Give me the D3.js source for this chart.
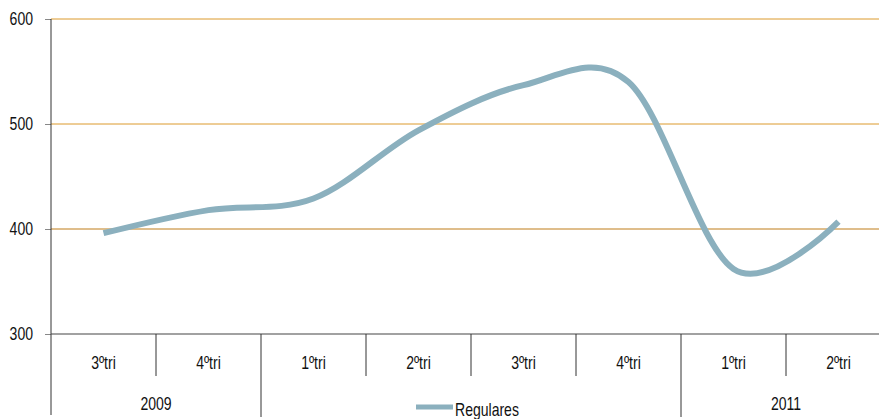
<!DOCTYPE html>
<html>
<head>
<meta charset="utf-8">
<script src="https://cdn.jsdelivr.net/npm/d3@7"></script>
<style>
  body { margin: 0; background: #fff; }
  text { font-family: "Liberation Sans", Arial, sans-serif; font-size: 18px; fill: #111; }
</style>
</head>
<body>
<div id="chart"></div>
<script>
const quarters = ['3ºtri', '4ºtri', '1ºtri', '2ºtri', '3ºtri', '4ºtri', '1ºtri', '2ºtri'];
const years = ['2009', '2009', '2010', '2010', '2010', '2010', '2011', '2011'];
const yearLabels = [{year: '2009', from: 0, to: 2}, {year: '', from: 2, to: 6}, {year: '2011', from: 6, to: 8}];
const regulares = [396, 418, 429, 494, 537, 540, 362, 407];
const yTicks = [300, 400, 500, 600];
const seriesName = 'Regulares';

const svgWidth = 879;
const svgHeight = 419;
const margin = {top: 19, left: 51, bottom: 85};
const plotRight = 891;
const narrow = 0.78; // squeeze Liberation Sans to look like Arial Narrow

const svg = d3.select('#chart').append('svg')
    .attr('width', svgWidth)
    .attr('height', svgHeight);

const x = d3.scaleBand()
    .domain(d3.range(quarters.length))
    .range([margin.left, plotRight]);

const y = d3.scaleLinear()
    .domain([300, 600])
    .range([svgHeight - margin.bottom, margin.top]);

function label(g, tx, ty, txt, anchor) {
    return g.append('text')
        .attr('transform', `translate(${tx},${ty}) scale(${narrow},1)`)
        .attr('text-anchor', anchor)
        .text(txt);
}

// gridlines
svg.selectAll('line.grid').data(yTicks.filter(d => d > 300)).enter()
    .append('line')
    .attr('class', 'grid')
    .attr('x1', margin.left).attr('x2', plotRight)
    .attr('y1', d => y(d)).attr('y2', d => y(d))
    .attr('stroke', d => d === 400 ? '#bf7c18' : '#dc9a2c')
    .attr('stroke-width', 1);

// y axis ticks + labels
const leftAxis = d3.axisLeft(y).tickValues(yTicks).tickSize(6).tickFormat('');
const yAxisG = svg.append('g')
    .attr('transform', `translate(${margin.left},0)`)
    .call(leftAxis);
yAxisG.select('.domain').remove();
yAxisG.selectAll('.tick line').attr('stroke', '#888');
yTicks.forEach(t => label(svg, 33, y(t) + 6, t, 'end'));

svg.append('line')
    .attr('x1', margin.left).attr('x2', margin.left)
    .attr('y1', margin.top).attr('y2', 415)
    .attr('stroke', '#333');

// x axis line
const baseY = y(300);
svg.append('line')
    .attr('x1', margin.left).attr('x2', plotRight)
    .attr('y1', baseY).attr('y2', baseY)
    .attr('stroke', '#444').attr('stroke-width', 1.2);

// quarter separators
svg.selectAll('line.qsep').data(d3.range(1, quarters.length)).enter()
    .append('line')
    .attr('class', 'qsep')
    .attr('x1', d => x(d)).attr('x2', d => x(d))
    .attr('y1', baseY)
    .attr('y2', d => years[d] !== years[d - 1] ? 417 : 376)
    .attr('stroke', '#333');

quarters.forEach((q, i) => label(svg, x(i) + x.bandwidth() / 2, 369, q, 'middle'));

yearLabels.filter(d => d.year).forEach(d =>
    label(svg, (x(d.from) + x(d.to - 1) + x.bandwidth()) / 2, 410, d.year, 'middle'));

// series line
const line = d3.line()
    .x((d, i) => x(i) + x.bandwidth() / 2)
    .y(d => y(d))
    .curve(d3.curveCardinal.tension(0));

svg.append('path')
    .datum(regulares)
    .attr('d', line)
    .attr('fill', 'none')
    .attr('stroke', '#8bb0be')
    .attr('stroke-width', 6);

// legend
svg.append('line')
    .attr('x1', 416).attr('x2', 453)
    .attr('y1', 407).attr('y2', 407)
    .attr('stroke', '#8bb0be').attr('stroke-width', 5);
label(svg, 455, 416, seriesName, 'start');
</script>
</body>
</html>
